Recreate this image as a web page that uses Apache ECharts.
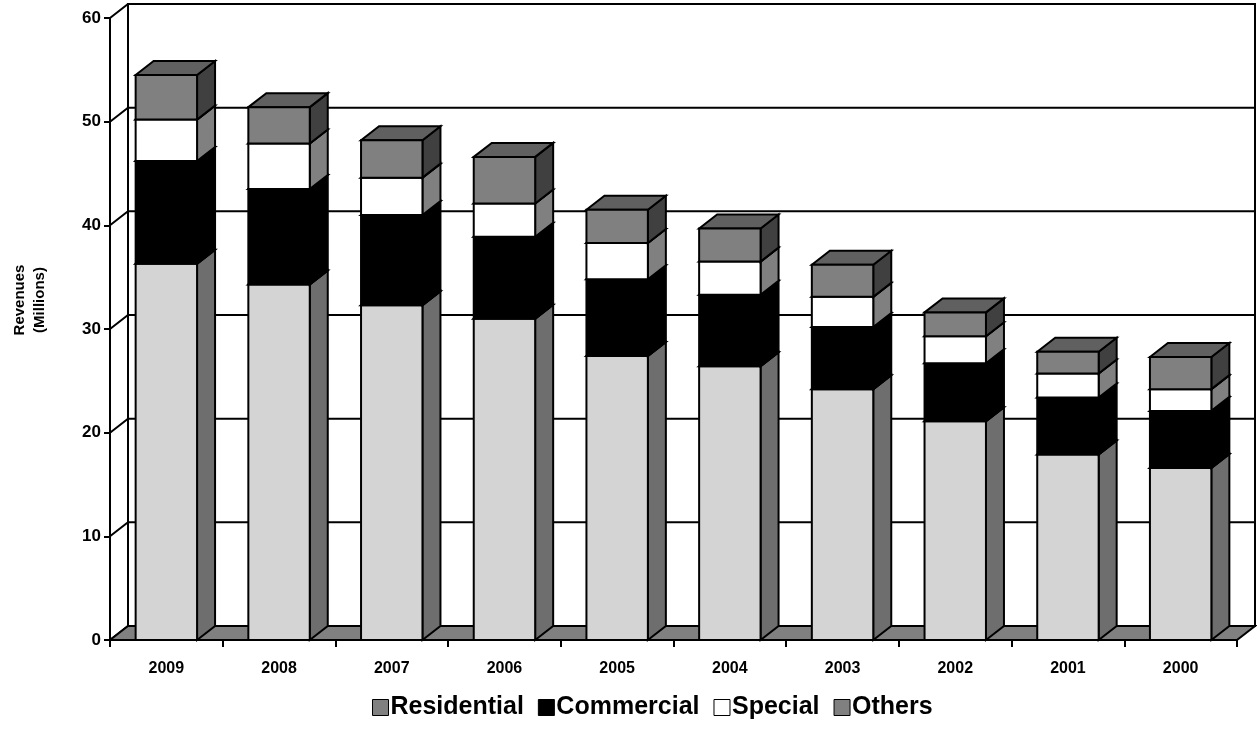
<!DOCTYPE html>
<html>
<head>
<meta charset="utf-8">
<script src="https://cdn.jsdelivr.net/npm/echarts@6/dist/echarts.min.js"></script>
<style>
  html, body { margin: 0; padding: 0; background: #fff; }
  #chart { width: 1257px; height: 748px; }
</style>
</head>
<body>
<div id="chart"></div>
<script>
// Revenue by customer class, in millions, newest year first
const categories = ['2009', '2008', '2007', '2006', '2005', '2004', '2003', '2002', '2001', '2000'];
const residential = [36.3, 34.3, 32.3, 31.0, 27.4, 26.4, 24.2, 21.1, 17.9, 16.6];
const commercial  = [9.9, 9.2, 8.7, 7.9, 7.4, 6.9, 6.0, 5.6, 5.5, 5.5];
const special     = [4.0, 4.4, 3.6, 3.2, 3.5, 3.2, 2.9, 2.6, 2.3, 2.1];
const others      = [4.3, 3.5, 3.6, 4.5, 3.2, 3.2, 3.1, 2.3, 2.1, 3.1];
const yTicks = [0, 10, 20, 30, 40, 50, 60];

// depth of the 3-D effect (pixels to the right / up)
const DX = 18, DY = -14;
const BAR_RATIO = 0.545;
const FONT = '"Liberation Sans", Arial, sans-serif';

// face colours per series: front, side, top, legend swatch
const faces = {
  Residential: { front: '#d4d4d4', side: '#6e6e6e', top: '#a0a0a0', legend: '#808080' },
  Commercial:  { front: '#000000', side: '#000000', top: '#000000', legend: '#000000' },
  Special:     { front: '#ffffff', side: '#808080', top: '#e0e0e0', legend: '#ffffff' },
  Others:      { front: '#808080', side: '#404040', top: '#606060', legend: '#808080' }
};

// cumulative stacking: each item = [categoryIndex, base, top]
const layers = [['Residential', residential], ['Commercial', commercial], ['Special', special], ['Others', others]];
const cum = categories.map(() => 0);
const stacked = layers.map(([name, vals]) => {
  const data = vals.map((v, i) => {
    const item = [i, cum[i], cum[i] + v];
    cum[i] += v;
    return item;
  });
  return { name, data };
});

const stroke = { stroke: '#000', lineWidth: 2, lineJoin: 'miter' };

function renderBar(name) {
  const f = faces[name];
  return function (params, api) {
    const i = api.value(0);
    const p0 = api.coord([i, api.value(1)]);
    const p1 = api.coord([i, api.value(2)]);
    const bw = api.size([1, 0])[0] * BAR_RATIO;
    const xl = p0[0] - bw / 2, xr = p0[0] + bw / 2;
    const yb = p0[1], yt = p1[1];
    return {
      type: 'group',
      children: [
        { type: 'polygon', shape: { points: [[xr, yb], [xr + DX, yb + DY], [xr + DX, yt + DY], [xr, yt]] },
          style: Object.assign({ fill: f.side }, stroke) },
        { type: 'polygon', shape: { points: [[xl, yt], [xl + DX, yt + DY], [xr + DX, yt + DY], [xr, yt]] },
          style: Object.assign({ fill: f.top }, stroke) },
        { type: 'rect', shape: { x: xl, y: yt, width: bw, height: yb - yt },
          style: Object.assign({ fill: f.front }, stroke) }
      ]
    };
  };
}

// back wall, side-wall diagonals, gridlines and floor
function renderWalls(params, api) {
  const cs = params.coordSys;
  const y0 = api.coord([0, 0])[1];
  const children = [
    { type: 'rect', shape: { x: cs.x + DX, y: cs.y + DY, width: cs.width, height: cs.height },
      style: { fill: '#fff', stroke: '#000', lineWidth: 2 } }
  ];
  yTicks.forEach(v => {
    const y = api.coord([0, v])[1];
    children.push({ type: 'polyline',
      shape: { points: [[cs.x, y], [cs.x + DX, y + DY], [cs.x + cs.width + DX, y + DY]] },
      style: { stroke: '#000', lineWidth: 2, fill: null } });
  });
  children.push({ type: 'polygon',
    shape: { points: [[cs.x, y0], [cs.x + DX, y0 + DY], [cs.x + cs.width + DX, y0 + DY], [cs.x + cs.width, y0]] },
    style: { fill: '#808080', stroke: '#000', lineWidth: 2 } });
  return { type: 'group', children };
}

const series = [{
  name: 'walls', type: 'custom', renderItem: renderWalls, data: [[0, 0]],
  encode: { x: 0, y: 1 }, z: 1, silent: true, legendHoverLink: false
}].concat(stacked.map(s => ({
  name: s.name, type: 'custom', renderItem: renderBar(s.name), data: s.data,
  encode: { x: 0, y: [1, 2] }, z: 2,
  itemStyle: { color: faces[s.name].legend }
})));

const chart = echarts.init(document.getElementById('chart'), null, { renderer: 'canvas' });
chart.setOption({
  animation: false,
  backgroundColor: '#fff',
  grid: { left: 110, right: 20, top: 18, bottom: 108 },
  xAxis: {
    type: 'category', data: categories, boundaryGap: true,
    axisLine: { lineStyle: { color: '#000', width: 2 } },
    axisTick: { show: true, length: 7, lineStyle: { color: '#000', width: 2 } },
    axisLabel: { color: '#000', fontFamily: FONT, fontWeight: 'bold', fontSize: 16, margin: 21 },
    splitLine: { show: false }, z: 3
  },
  yAxis: {
    type: 'value', min: 0, max: 60, interval: 10,
    axisLine: { show: true, lineStyle: { color: '#000', width: 2 } },
    axisTick: { show: true, length: 6, lineStyle: { color: '#000', width: 2 } },
    axisLabel: { color: '#000', fontFamily: FONT, fontWeight: 'bold', fontSize: 17, margin: 9 },
    splitLine: { show: false }, z: 3
  },
  legend: {
    data: ['Residential', 'Commercial', 'Special', 'Others'],
    top: 690, left: 367,
    icon: 'rect', itemWidth: 16, itemHeight: 16, itemGap: 14,
    itemStyle: { borderColor: '#000', borderWidth: 1 },
    textStyle: { color: '#000', fontFamily: FONT, fontWeight: 'bold', fontSize: 25, padding: [0, 0, 0, -3] },
    selectedMode: false
  },
  graphic: [{
    type: 'text', x: 30, y: 300, rotation: Math.PI / 2,
    style: { text: 'Revenues\n(Millions)', textAlign: 'center', textVerticalAlign: 'middle',
             fill: '#000', font: 'bold 15px ' + FONT, lineHeight: 20 }
  }],
  series
});
</script>
</body>
</html>
